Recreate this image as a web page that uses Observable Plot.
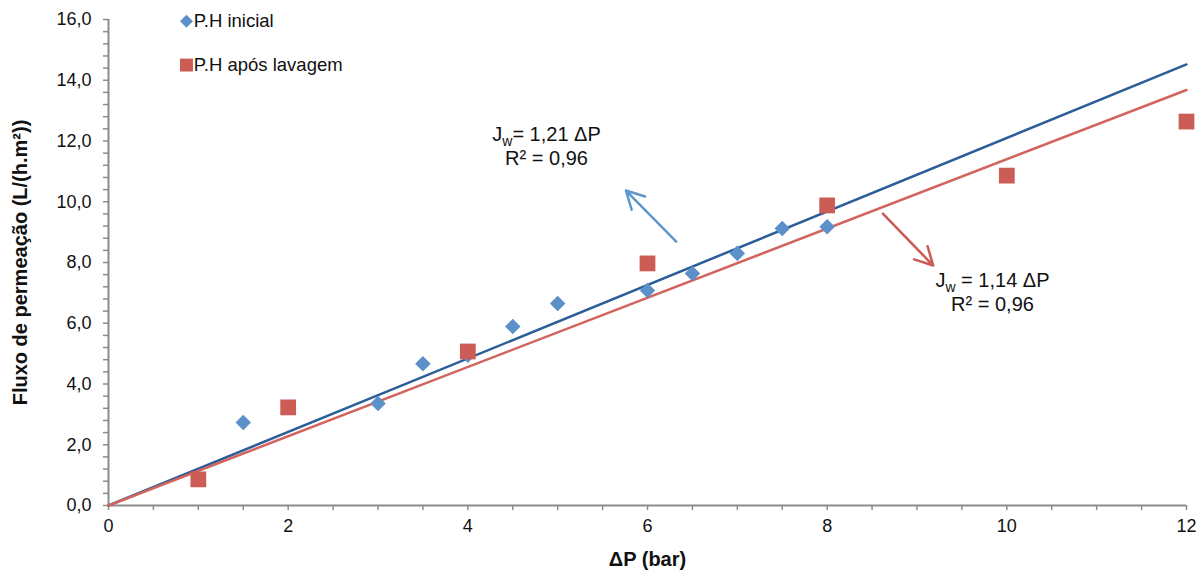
<!DOCTYPE html>
<html>
<head>
<meta charset="utf-8">
<script src="https://cdn.jsdelivr.net/npm/d3@7"></script>
<script src="https://cdn.jsdelivr.net/npm/@observablehq/plot@0.6"></script>
<style>
  body { margin: 0; background: #fff; }
  #chart svg { font-family: "Liberation Sans", Arial, sans-serif; }
</style>
</head>
<body>
<div id="chart"></div>
<script>
// ---- data ----
const seriesNames = ["P.H inicial", "P.H após lavagem"];
const pressaoInicial = [1.5, 3, 3.5, 4, 4.5, 5, 6, 6.5, 7, 7.5, 8];
const fluxoInicial   = [2.73, 3.36, 4.67, 4.95, 5.89, 6.65, 7.08, 7.64, 8.30, 9.12, 9.18];
const pressaoLavagem = [1, 2, 4, 6, 8, 10, 12];
const fluxoLavagem   = [0.86, 3.23, 5.07, 7.97, 9.88, 10.86, 12.64];
const slopes = [1.21, 1.14];
const eqLabels = ["J_w= 1,21 ΔP\nR² = 0,96", "J_w = 1,14 ΔP\nR² = 0,96"];
const eqX = [4.876, 9.84];
const eqY = [11.85, 7.05];
const arrowX1 = [6.32, 8.62];
const arrowY1 = [8.69, 9.61];
const arrowX2 = [5.76, 9.18];
const arrowY2 = [10.37, 7.90];
const legendX = [0.868, 0.868];
const legendTextX = [0.95, 0.95];
const legendY = [15.94, 14.50];
const xTicks = d3.range(0, 25).map(i => i / 2);
const yTicks = d3.range(0, 41).map(i => Math.round(i * 4) / 10);

// ---- styling ----
const fillColors = ["#5B90C8", "#CC5C56"];
const lineColors = ["#2B5D98", "#D2645D"];
const arrowColors = ["#5F97CD", "#CC5A54"];
const axisGray = "#8c8c8c";

const inicial = pressaoInicial.map((x, i) => ({x, y: fluxoInicial[i]}));
const lavagem = pressaoLavagem.map((x, i) => ({x, y: fluxoLavagem[i]}));
const trend = slopes.map((s, k) => [{x: 0, y: 0, k}, {x: 12, y: s * 12, k}]);
const eqs = eqLabels.map((t, i) => ({t, x: eqX[i], y: eqY[i]}));
const arrows = arrowX1.map((x1, i) => ({x1, y1: arrowY1[i], x2: arrowX2[i], y2: arrowY2[i], c: arrowColors[i]}));
const legend = seriesNames.map((n, i) => ({n, x: legendX[i], tx: legendTextX[i], y: legendY[i]}));

const chart = Plot.plot({
  width: 1201,
  height: 578,
  marginLeft: 108,
  marginRight: 15,
  marginTop: 19,
  marginBottom: 73,
  style: {fontSize: "18px", fontFamily: "'Liberation Sans', Arial, sans-serif", background: "#fff"},
  x: {domain: [0, 12]},
  y: {domain: [0, 16]},
  marks: [
    Plot.axisX({ticks: xTicks, tickSize: 5, tickPadding: 9, strokeWidth: 1.5, stroke: axisGray, fill: "#111",
      tickFormat: d => (Math.round(d * 2) % 4 === 0 ? String(d) : ""), label: null, fontSize: 18}),
    Plot.axisY({ticks: yTicks, tickSize: 5, tickPadding: 12, strokeWidth: 1.5, stroke: axisGray, fill: "#111",
      tickFormat: d => (Math.round(d * 10) % 20 === 0 ? d.toFixed(1).replace(".", ",") : ""), label: null, fontSize: 18}),
    Plot.ruleY([0], {stroke: axisGray, strokeWidth: 2}),
    Plot.ruleX([0], {stroke: axisGray, strokeWidth: 2}),
    Plot.line(trend[0], {x: "x", y: "y", stroke: lineColors[0], strokeWidth: 2.5}),
    Plot.line(trend[1], {x: "x", y: "y", stroke: lineColors[1], strokeWidth: 2.5}),
    Plot.dot(inicial, {x: "x", y: "y", symbol: "diamond2", r: 7, fill: fillColors[0], stroke: "none"}),
    Plot.dot(lavagem, {x: "x", y: "y", symbol: "square", r: 8.9, fill: fillColors[1], stroke: "none"}),
    Plot.arrow(arrows, {x1: "x1", y1: "y1", x2: "x2", y2: "y2", stroke: d => d.c, strokeWidth: 2.5, headLength: 12, headAngle: 56}),
    Plot.text(eqs, {x: "x", y: "y", text: "t", fontSize: 20, lineHeight: 1.18, fill: "#111"}),
    Plot.dot(legend.slice(0, 1), {x: "x", y: "y", symbol: "diamond2", r: 5.85, fill: fillColors[0], stroke: "none"}),
    Plot.dot(legend.slice(1, 2), {x: "x", y: "y", symbol: "square", r: 7.3, fill: fillColors[1], stroke: "none"}),
    Plot.text(legend, {x: "tx", y: "y", text: "n", textAnchor: "start", fontSize: 18.5, fill: "#111"}),
    Plot.text(["ΔP (bar)"], {frameAnchor: "bottom", textAnchor: "middle", dy: 60, fontSize: 20, fontWeight: "bold", fill: "#111"}),
    Plot.text(["Fluxo de permeação (L/(h.m²))"], {frameAnchor: "left", textAnchor: "middle", dx: -88, rotate: -90, fontSize: 20, fontWeight: "bold", fill: "#111"})
  ]
});

// subscript "w" in J_w
chart.querySelectorAll("text, tspan").forEach(el => {
  const node = Array.from(el.childNodes).find(n => n.nodeType === 3 && n.nodeValue.includes("J_w"));
  if (!node) return;
  const [before, after] = node.nodeValue.split("J_w");
  const ns = "http://www.w3.org/2000/svg";
  const frag = document.createDocumentFragment();
  frag.appendChild(document.createTextNode(before + "J"));
  const sub = document.createElementNS(ns, "tspan");
  sub.setAttribute("dy", "5");
  sub.setAttribute("font-size", "14");
  sub.textContent = "w";
  frag.appendChild(sub);
  const rest = document.createElementNS(ns, "tspan");
  rest.setAttribute("dy", "-5");
  rest.textContent = after;
  frag.appendChild(rest);
  el.replaceChild(frag, node);
});

document.getElementById("chart").appendChild(chart);
</script>
</body>
</html>
